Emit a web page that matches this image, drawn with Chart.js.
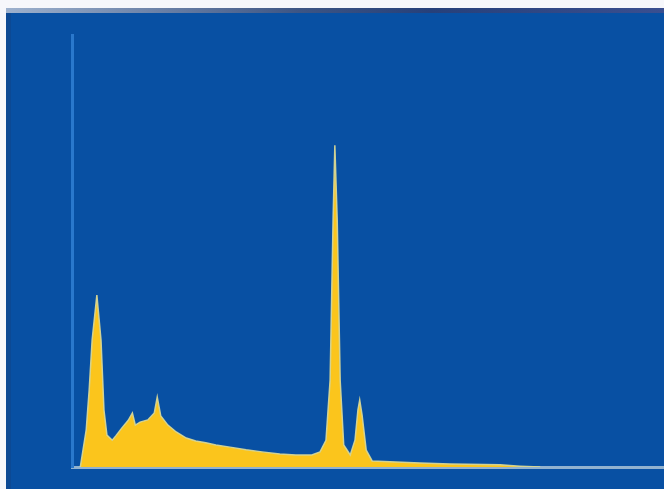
<!DOCTYPE html>
<html>
<head>
<meta charset="utf-8">
<script src="https://cdn.jsdelivr.net/npm/chart.js@4"></script>
<style>
  html, body { margin: 0; padding: 0; background: #fff; }
  canvas { display: block; }
</style>
</head>
<body>
<canvas id="spectrum" width="664" height="489"></canvas>
<script>
// energy (keV) and counts
const energy = [0.14, 0.24, 0.29, 0.34, 0.42, 0.49, 0.54, 0.59, 0.68, 0.74, 0.84, 0.95, 1.02, 1.07, 1.15, 1.28, 1.39, 1.44, 1.50, 1.62, 1.76, 1.93, 2.09, 2.26, 2.43, 2.67, 2.94, 3.21, 3.51, 3.78, 4.05, 4.19, 4.29, 4.36, 4.41, 4.44, 4.48, 4.53, 4.59, 4.70, 4.78, 4.83, 4.86, 4.90, 4.97, 5.07, 5.37, 5.88, 6.39, 7.23, 7.57, 7.91];
const counts = [0, 86, 178, 294, 398, 294, 132, 74, 62, 72, 90, 108, 125, 97, 104, 109, 125, 162, 118, 97, 81, 67, 60, 56, 51, 46, 40, 35, 30, 28, 28, 35, 62, 201, 572, 745, 572, 201, 51, 28, 62, 132, 155, 120, 39, 14, 12, 9, 7, 5, 2, 0];

const xRange = [0, 10];
const yRange = [0, 1000];

const points = energy.map((e, i) => ({x: e, y: counts[i]}));

// paint the blue panel behind the plot, with the pale strips on top and left
const panelBg = {
    id: 'panelBg',
    beforeDraw(chart) {
        const ctx = chart.ctx;
        ctx.save();
        ctx.fillStyle = '#f6f7fb';
        ctx.fillRect(0, 0, chart.width, chart.height);
        const grad = ctx.createLinearGradient(0, 0, chart.width, 0);
        grad.addColorStop(0, '#9fb3cf');
        grad.addColorStop(0.45, '#3d5584');
        grad.addColorStop(0.65, '#26407a');
        grad.addColorStop(1, '#3a4f90');
        ctx.fillStyle = grad;
        ctx.fillRect(6, 8, chart.width - 6, 5);
        ctx.fillStyle = '#0850a3';
        ctx.fillRect(6, 13, chart.width - 6, chart.height - 13);
        // faint darker stripe near the left edge
        ctx.fillStyle = 'rgba(20,60,120,0.35)';
        ctx.fillRect(6, 13, 5, chart.height - 13);
        ctx.restore();
    }
};

new Chart(document.getElementById('spectrum').getContext('2d'), {
    type: 'line',
    data: {
        datasets: [{
            data: points,
            fill: 'origin',
            backgroundColor: '#fbc51c',
            borderColor: 'rgba(214,214,150,0.95)',
            borderWidth: 1.5,
            pointRadius: 0,
            tension: 0
        }]
    },
    options: {
        responsive: false,
        animation: false,
        layout: {
            padding: {left: 72, top: 35, right: 0, bottom: 22}
        },
        plugins: {
            legend: {display: false},
            tooltip: {enabled: false}
        },
        scales: {
            x: {
                type: 'linear',
                min: xRange[0],
                max: xRange[1],
                ticks: {display: false},
                grid: {display: false, drawTicks: false},
                border: {display: true, color: 'rgba(170,195,215,0.85)', width: 3}
            },
            y: {
                min: yRange[0],
                max: yRange[1],
                ticks: {display: false},
                grid: {display: false, drawTicks: false},
                border: {display: true, color: '#2a78cc', width: 3}
            }
        }
    },
    plugins: [panelBg]
});
</script>
</body>
</html>
